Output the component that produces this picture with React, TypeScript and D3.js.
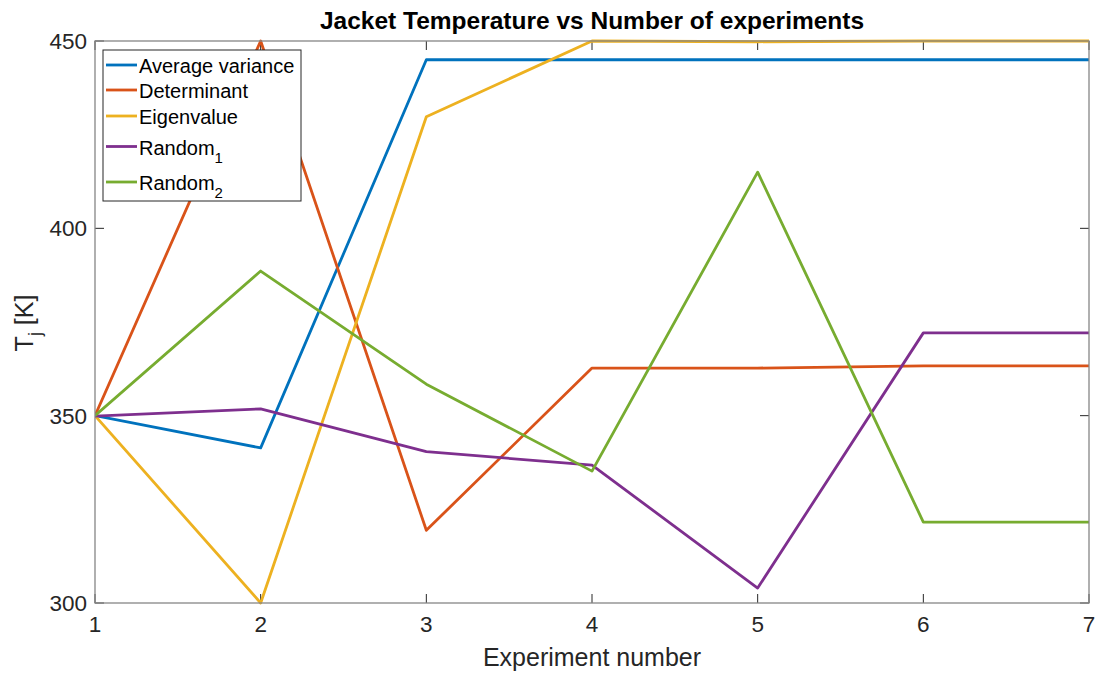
import React from "react";
import * as d3 from "d3";

const experiments = [1, 2, 3, 4, 5, 6, 7];
const avgVariance = [350, 341.4, 445, 445, 445, 445, 445];
const determinant = [350, 450, 319.4, 362.7, 362.7, 363.3, 363.3];
const eigenvalue = [350, 300, 429.8, 450, 449.8, 450, 450];
const random1 = [349.9, 351.8, 340.4, 336.8, 304, 372.1, 372.1];
const random2 = [350, 388.6, 358.4, 335.2, 415, 321.6, 321.6];
const xTicks = [1, 2, 3, 4, 5, 6, 7];
const yTicks = [300, 350, 400, 450];

const series = [
  { name: "Average variance", sub: "", values: avgVariance, color: "#0072BD" },
  { name: "Determinant", sub: "", values: determinant, color: "#D95319" },
  { name: "Eigenvalue", sub: "", values: eigenvalue, color: "#EDB120" },
  { name: "Random", sub: "1", values: random1, color: "#7E2F8E" },
  { name: "Random", sub: "2", values: random2, color: "#77AC30" },
];

const W = 1096, H = 673;
const L = 95, R = 1089, T = 41, B = 603;
const FONT = "'Liberation Sans', Arial, Helvetica, sans-serif";

export default function App() {
  const x = d3.scaleLinear().domain([1, 7]).range([L, R]);
  const y = d3.scaleLinear().domain([300, 450]).range([B, T]);
  const line = d3.line<number>().x((_, i) => x(experiments[i])).y((d) => y(d));
  const legendRows = [65, 90, 116, 146.5, 182];
  return (
    <svg width={W} height={H} style={{ position: "absolute", left: 0, top: 0, fontFamily: FONT }}>
      <rect x={0} y={0} width={W} height={H} fill="#fff" />
      <defs>
        <clipPath id="plot">
          <rect x={L} y={T - 2} width={R - L} height={B - T + 4} />
        </clipPath>
      </defs>
      {xTicks.map((t) => (
        <g key={"x" + t}>
          <line x1={x(t)} x2={x(t)} y1={B} y2={B - 9} stroke="#262626" strokeWidth={1} />
          <line x1={x(t)} x2={x(t)} y1={T} y2={T + 9} stroke="#262626" strokeWidth={1} />
          <text x={x(t)} y={B + 29} textAnchor="middle" fontSize={22.5} fill="#262626">{t}</text>
        </g>
      ))}
      {yTicks.map((t) => (
        <g key={"y" + t}>
          <line x1={L} x2={L + 9} y1={y(t)} y2={y(t)} stroke="#262626" strokeWidth={1} />
          <line x1={R} x2={R - 9} y1={y(t)} y2={y(t)} stroke="#262626" strokeWidth={1} />
          <text x={L - 8} y={y(t) + 8} textAnchor="end" fontSize={22.5} fill="#262626">{t}</text>
        </g>
      ))}
      <g clipPath="url(#plot)">
        {series.map((s, i) => (
          <path key={i} d={line(s.values) || ""} fill="none" stroke={s.color} strokeWidth={2.8} strokeLinejoin="round" />
        ))}
      </g>
      <rect x={L} y={T} width={R - L} height={B - T} fill="none" stroke="#868686" strokeWidth={1.3} />
      <rect x={103} y={50} width={198} height={151} fill="#fff" stroke="#262626" strokeWidth={1} />
      {series.map((s, i) => (
        <g key={"lg" + i}>
          <line x1={106} x2={137} y1={legendRows[i]} y2={legendRows[i]} stroke={s.color} strokeWidth={2.8} />
          <text x={139} y={legendRows[i] + 8} fontSize={20} fill="#000">
            {s.name}
            {s.sub && <tspan dy={8} fontSize={15}>{s.sub}</tspan>}
          </text>
        </g>
      ))}
      <text x={592} y={29} textAnchor="middle" fontSize={24.5} fontWeight="bold" fill="#000">
        Jacket Temperature vs Number of experiments
      </text>
      <text x={592} y={666} textAnchor="middle" fontSize={25} fill="#262626">Experiment number</text>
      <text transform={`translate(33,323) rotate(-90)`} textAnchor="middle" fontSize={25} fill="#262626">
        T<tspan dy={8} fontSize={18}>j</tspan><tspan dy={-8}> [K]</tspan>
      </text>
    </svg>
  );
}
